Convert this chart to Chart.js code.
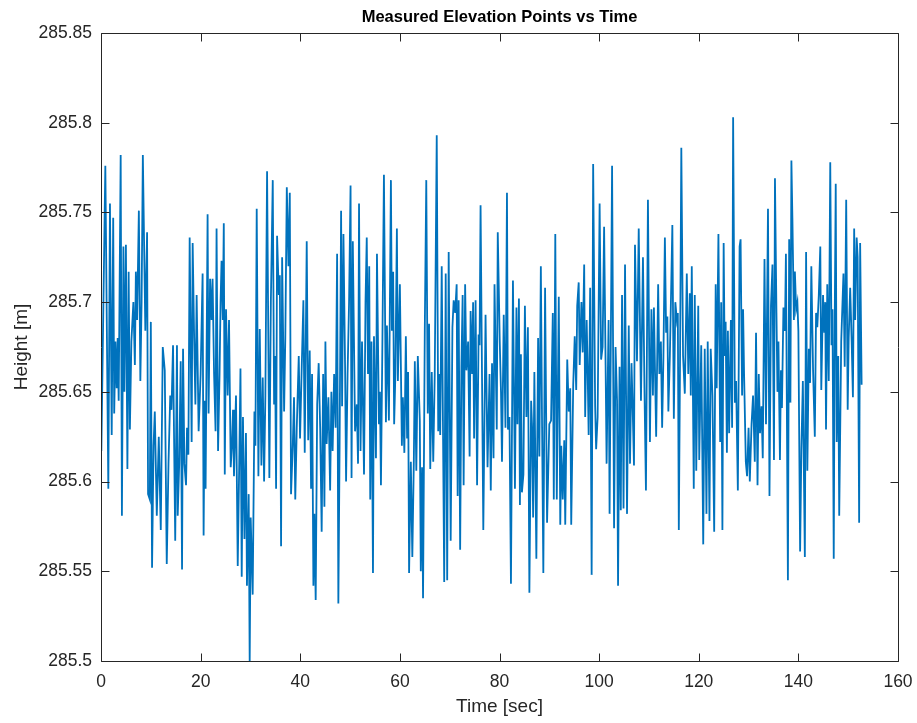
<!DOCTYPE html>
<html><head><meta charset="utf-8">
<script src="https://cdn.jsdelivr.net/npm/chart.js@4.4.0/dist/chart.umd.min.js"></script>
<style>html,body{margin:0;padding:0;background:#fff;}#wrap{width:917px;height:723px;position:relative;}</style>
</head><body><div id="wrap"><canvas id="c"></canvas></div>
<script>
const chartTitle = 'Measured Elevation Points vs Time';
const xLabel = 'Time [sec]';
const yLabel = 'Height [m]';
const xTicks = [0, 20, 40, 60, 80, 100, 120, 140, 160];
const yTicks = [285.5, 285.55, 285.6, 285.65, 285.7, 285.75, 285.8, 285.85];

const timeSec = [
0.07,0.87,1.47,1.8,2.15,2.45,2.65,2.9,3.15,3.35,
3.55,3.95,4.2,4.5,4.7,5.0,5.3,5.55,5.8,6.1,
6.5,6.8,7.0,7.25,7.6,7.9,8.15,8.4,8.9,9.25,
9.45,9.8,10.0,10.25,10.55,10.8,11.2,11.6,12.0,12.4,
12.8,13.2,13.55,13.9,14.15,14.46,14.9,15.25,15.4,15.7,
16.0,16.27,16.47,16.74,17.07,17.27,17.54,17.8,18.2,18.4,
18.7,18.95,19.2,19.6,20.0,20.4,20.6,20.8,21.0,21.4,
21.6,21.9,22.2,22.4,22.7,23.0,23.2,23.5,23.8,24.0,
24.2,24.45,24.65,24.85,25.1,25.43,25.7,26.04,26.3,26.5,
26.7,27.1,27.45,27.75,28.0,28.25,28.5,28.8,29.1,29.3,
29.65,29.85,30.05,30.45,30.8,31.0,31.26,31.6,31.87,32.2,
32.47,32.74,33.0,33.34,33.8,34.1,34.48,34.75,34.95,35.15,
35.35,35.7,35.9,36.15,36.36,36.76,37.0,37.3,37.63,37.9,
38.15,38.5,38.75,39.0,39.3,39.7,39.96,40.3,40.63,40.9,
41.3,41.6,41.9,42.17,42.37,42.64,42.84,43.1,43.4,43.7,
44.0,44.3,44.6,44.85,45.05,45.3,45.65,46.0,46.25,46.5,
46.8,47.1,47.4,47.65,47.9,48.2,48.4,48.67,49.0,49.2,
49.5,49.8,50.1,50.3,50.55,51.0,51.35,51.6,51.8,52.1,
52.4,52.8,53.1,53.35,53.6,53.85,54.05,54.3,54.6,54.8,
55.2,55.4,55.8,56.0,56.2,56.5,56.8,57.2,57.4,57.8,
58.2,58.4,58.65,58.85,59.1,59.4,59.6,60.0,60.4,60.6,
60.9,61.2,61.45,61.65,61.85,62.2,62.5,62.8,63.0,63.3,
63.6,64.0,64.2,64.45,64.65,65.0,65.3,65.6,65.86,66.1,
66.4,66.7,67.0,67.4,67.7,67.9,68.1,68.4,68.9,69.2,
69.5,69.8,70.2,70.55,70.8,71.1,71.4,71.6,71.8,72.1,
72.35,72.6,72.8,73.1,73.35,73.7,74.0,74.2,74.5,74.7,
74.9,75.2,75.5,75.8,76.0,76.2,76.75,77.2,77.6,78.0,
78.25,78.5,78.8,79.0,79.45,79.65,80.05,80.3,80.5,80.85,
81.2,81.5,81.7,82.0,82.3,82.7,83.1,83.4,83.6,83.9,
84.1,84.3,84.5,84.8,85.1,85.4,85.7,86.0,86.35,86.55,
86.75,87.0,87.4,87.75,88.0,88.3,88.55,88.8,89.15,89.55,
90.0,90.35,90.7,90.9,91.2,91.5,91.9,92.2,92.4,92.7,
93.0,93.2,93.6,93.9,94.2,94.4,94.8,95.1,95.4,95.6,
95.9,96.1,96.45,96.7,97.0,97.2,97.5,97.7,97.9,98.2,
98.5,98.8,99.2,99.4,99.7,100.1,100.4,100.7,101.0,101.3,
101.5,101.9,102.1,102.6,103.0,103.3,103.6,103.8,104.1,104.35,
104.6,104.9,105.2,105.6,105.95,106.2,106.5,106.7,107.0,107.2,
107.6,107.95,108.4,108.8,109.1,109.4,109.8,110.2,110.5,110.8,
111.0,111.45,111.85,112.1,112.4,112.65,112.9,113.2,113.45,113.7,
113.9,114.2,114.5,114.7,115.0,115.3,115.6,115.8,116.0,116.25,
116.5,116.85,117.2,117.6,117.9,118.2,118.4,118.6,119.0,119.2,
119.5,119.9,120.1,120.5,120.9,121.2,121.55,121.8,122.15,122.4,
122.75,123.1,123.4,123.6,123.95,124.3,124.5,124.75,125.0,125.2,
125.4,125.65,125.85,126.1,126.45,126.7,126.9,127.25,127.5,127.85,
128.2,128.4,128.7,128.9,129.1,129.45,129.7,130.0,130.25,130.6,
130.9,131.25,131.5,131.8,132.05,132.3,132.6,132.85,133.2,133.5,
133.9,134.2,134.5,134.8,135.1,135.3,135.6,135.8,136.0,136.3,
136.5,136.7,137.0,137.3,137.5,137.9,138.15,138.4,138.6,138.8,
139.1,139.3,139.55,139.8,140.0,140.35,140.6,140.9,141.3,141.55,
141.8,142.1,142.35,142.6,142.95,143.3,143.55,143.8,144.1,144.4,
144.6,144.95,145.2,145.4,145.55,145.8,146.1,146.4,146.65,146.85,
147.1,147.3,147.5,147.7,148.0,148.2,148.6,149.05,149.3,149.6,
149.9,150.1,150.4,150.7,150.95,151.2,151.4,151.7,151.9,152.2,
152.4,152.7
];

const heightM = [
285.617,285.776,285.596,285.755,285.626,285.747,285.638,285.678,285.652,285.680,
285.645,285.782,285.581,285.731,285.650,285.732,285.607,285.717,285.629,285.678,
285.700,285.665,285.717,285.690,285.751,285.656,285.700,285.782,285.684,285.739,
285.593,285.590,285.689,285.552,285.620,285.639,285.581,285.625,285.573,285.675,
285.662,285.554,285.610,285.648,285.640,285.676,285.567,285.676,285.581,285.610,
285.667,285.551,285.674,285.610,285.598,285.630,285.615,285.736,285.622,285.733,
285.680,285.643,285.704,285.628,285.660,285.716,285.570,285.645,285.596,285.749,
285.638,285.713,285.690,285.713,285.660,285.628,285.741,285.617,285.660,285.700,
285.723,285.690,285.744,285.604,285.696,285.648,285.690,285.608,285.621,285.640,
285.603,285.648,285.553,285.610,285.663,285.547,285.636,285.568,285.627,285.542,
285.593,285.500,285.580,285.537,285.639,285.620,285.752,285.603,285.685,285.609,
285.658,285.600,285.648,285.773,285.602,285.700,285.768,285.643,285.670,285.596,
285.737,285.704,285.715,285.564,285.725,285.639,285.680,285.764,285.720,285.761,
285.593,285.620,285.647,285.590,285.630,285.670,285.624,285.664,285.701,285.616,
285.734,285.623,285.673,285.596,285.660,285.542,285.582,285.534,285.643,285.666,
285.630,285.572,285.660,285.586,285.678,285.621,285.647,285.595,285.650,285.617,
285.660,285.630,285.727,285.532,285.620,285.751,285.642,285.738,285.664,285.600,
285.660,285.700,285.765,285.602,285.734,285.628,285.643,285.610,285.755,285.617,
285.678,285.604,285.700,285.736,285.660,285.720,285.590,285.678,285.549,285.681,
285.613,285.727,285.632,285.650,285.598,285.680,285.771,285.633,285.687,285.634,
285.768,285.684,285.717,285.632,285.660,285.741,285.656,285.710,285.620,285.647,
285.616,285.681,285.624,285.661,285.549,285.611,285.558,285.611,285.667,285.606,
285.670,285.634,285.550,285.608,285.535,285.684,285.768,285.638,285.688,285.607,
285.661,285.611,285.660,285.793,285.628,285.660,285.626,285.720,285.544,285.716,
285.545,285.728,285.567,285.686,285.701,285.694,285.710,285.592,285.701,285.562,
285.664,285.704,285.598,285.710,285.662,285.678,285.614,285.695,285.660,285.700,
285.624,285.701,285.598,285.682,285.676,285.754,285.573,285.693,285.608,285.660,
285.595,285.666,285.613,285.710,285.629,285.739,285.678,285.650,285.611,285.693,
285.630,285.761,285.629,285.636,285.543,285.712,285.596,285.697,285.632,285.702,
285.587,285.671,285.594,285.604,285.698,285.636,285.686,285.538,285.645,285.630,
285.580,285.661,285.557,285.680,285.614,285.720,285.630,285.549,285.708,285.577,
285.632,285.634,285.694,285.590,285.738,285.590,285.703,285.576,285.620,285.590,
285.623,285.576,285.668,285.639,285.652,285.576,285.654,285.681,285.651,285.698,
285.711,285.665,285.700,285.672,285.721,285.636,285.690,285.661,285.626,285.708,
285.548,285.777,285.642,285.618,285.636,285.755,285.668,285.675,285.742,285.665,
285.610,285.690,285.582,285.776,285.574,285.675,285.645,285.542,285.664,285.584,
285.704,285.585,285.721,285.582,285.687,285.610,285.666,285.645,285.609,285.732,
285.667,285.741,285.645,285.725,285.652,285.595,285.757,285.622,285.696,285.648,
285.697,285.625,285.710,285.660,285.678,285.630,285.668,285.736,285.683,285.692,
285.639,285.670,285.713,285.743,285.635,285.700,285.690,285.694,285.573,285.670,
285.786,285.670,285.649,285.716,285.660,285.705,285.648,285.720,285.596,285.704,
285.606,285.698,285.612,285.676,285.565,285.674,285.582,285.678,285.578,285.674,
285.648,285.572,285.710,285.652,285.738,285.622,285.700,285.573,285.733,285.670,
285.689,285.616,285.684,285.627,285.690,285.630,285.803,285.644,285.656,285.595,
285.731,285.735,285.648,285.696,285.660,285.611,285.603,285.630,285.600,285.632,
285.648,285.611,285.683,285.598,285.660,285.627,285.642,285.613,285.724,285.632,
285.752,285.592,285.698,285.721,285.612,285.769,285.694,285.650,285.678,285.612,
285.662,285.641,285.697,285.684,285.727,285.545,285.735,285.644,285.779,285.747,
285.690,285.717,285.696,285.700,285.684,285.561,285.618,285.656,285.558,285.728,
285.606,285.674,285.655,285.720,285.662,285.625,285.694,285.686,285.704,285.731,
285.651,285.704,285.683,285.700,285.629,285.710,285.656,285.778,285.676,285.696,
285.557,285.692,285.766,285.622,285.670,285.581,285.678,285.716,285.664,285.757,
285.640,285.680,285.708,285.678,285.647,285.741,285.690,285.736,285.725,285.577,
285.733,285.654
];

const FONT = '"Liberation Sans", Arial, Helvetica, sans-serif';
const TXT = '#262626';
const points = timeSec.map((t, i) => ({ x: t, y: heightM[i] }));

const matlabAxes = {
  id: 'matlabAxes',
  afterDraw(chart) {
    const ctx = chart.ctx, ca = chart.chartArea;
    const xs = chart.scales.x, ys = chart.scales.y;
    const L = Math.round(ca.left) + 0.5, R = Math.round(ca.right) + 0.5;
    const T = Math.round(ca.top) + 0.5, B = Math.round(ca.bottom) + 0.5;
    ctx.save();
    ctx.strokeStyle = TXT; ctx.lineWidth = 1;
    ctx.beginPath();
    ctx.rect(L, T, R - L, B - T);
    const tl = 8;
    xTicks.forEach(v => {
      const px = Math.round(xs.getPixelForValue(v)) + 0.5;
      ctx.moveTo(px, B); ctx.lineTo(px, B - tl);
      ctx.moveTo(px, T); ctx.lineTo(px, T + tl);
    });
    yTicks.forEach(v => {
      const py = Math.round(ys.getPixelForValue(v)) + 0.5;
      ctx.moveTo(L, py); ctx.lineTo(L + tl, py);
      ctx.moveTo(R, py); ctx.lineTo(R - tl, py);
    });
    ctx.stroke();
    ctx.fillStyle = '#000';
    ctx.textAlign = 'center';
    ctx.textBaseline = 'middle';
    ctx.font = 'bold 16.5px ' + FONT;
    ctx.fillText(chartTitle, (ca.left + ca.right) / 2, 17);
    ctx.fillStyle = TXT;
    ctx.font = '19px ' + FONT;
    ctx.fillText(xLabel, (ca.left + ca.right) / 2, 707);
    ctx.translate(22, (ca.top + ca.bottom) / 2);
    ctx.rotate(-Math.PI / 2);
    ctx.fillText(yLabel, 0, 0);
    ctx.restore();
  }
};

new Chart(document.getElementById('c'), {
  type: 'line',
  data: { datasets: [{ data: points, borderColor: '#0072BD', borderWidth: 1.8, pointRadius: 0, fill: false, tension: 0 }] },
  options: {
    responsive: true, maintainAspectRatio: false, animation: false,
    layout: { padding: { left: 0, top: 33, right: 19, bottom: 0 } },
    plugins: { legend: { display: false }, tooltip: { enabled: false }, title: { display: false } },
    scales: {
      x: {
        type: 'linear', min: 0, max: 160,
        afterBuildTicks: s => { s.ticks = xTicks.map(v => ({ value: v })); },
        afterFit: s => { s.height = 62; s.paddingLeft = 0; s.paddingRight = 0; },
        grid: { display: false, drawTicks: false },
        border: { display: false },
        ticks: { color: TXT, font: { family: FONT, size: 17.5 }, padding: 11, maxRotation: 0, autoSkip: false, callback: v => String(v) }
      },
      y: {
        type: 'linear', min: 285.5, max: 285.85,
        afterBuildTicks: s => { s.ticks = yTicks.map(v => ({ value: v })); },
        afterFit: s => { s.width = 101; s.paddingTop = 0; s.paddingBottom = 0; },
        grid: { display: false, drawTicks: false },
        border: { display: false },
        ticks: { color: TXT, font: { family: FONT, size: 17.5 }, padding: 9, autoSkip: false, callback: v => String(parseFloat(Number(v).toFixed(2))) }
      }
    }
  },
  plugins: [matlabAxes]
});
</script>
</body></html>
